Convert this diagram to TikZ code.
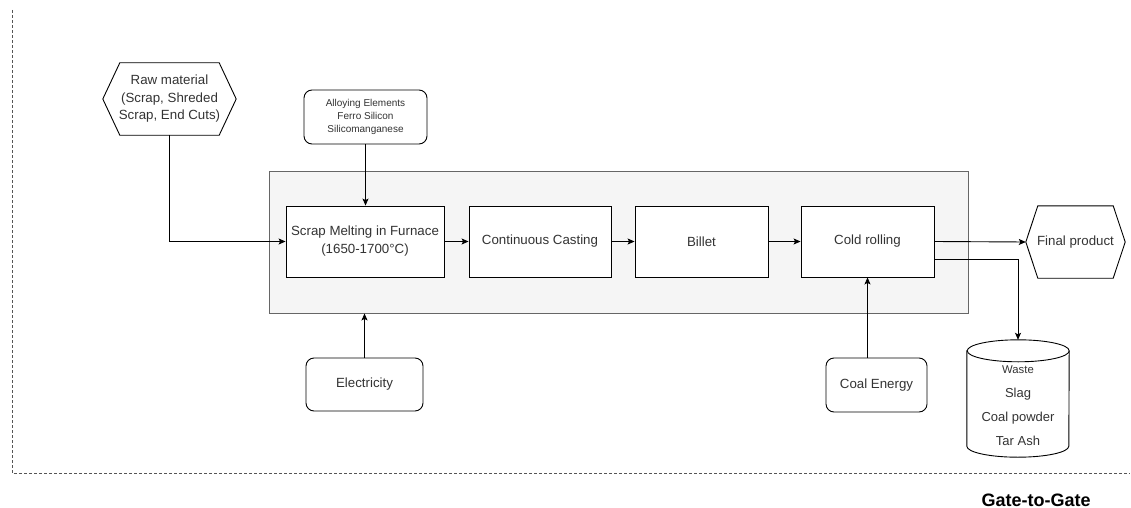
\documentclass[tikz,border=0pt]{standalone}
\usepackage{fontspec}
\setmainfont{Liberation Sans}
\usetikzlibrary{arrows.meta,calc}
\definecolor{txt}{HTML}{333333}
\definecolor{sysfill}{HTML}{F5F5F5}
\definecolor{sysline}{HTML}{666666}
\definecolor{bord}{HTML}{555555}
\tikzset{
  stepbox/.style={draw=black, line width=0.9pt, fill=white, inner sep=0pt, align=center,
    text=txt, font=\fontsize{13.3}{18}\selectfont},
  roundbox/.style={stepbox, rounded corners=8pt},
  hexnode/.style={inner sep=0pt, align=center, text=txt, font=\fontsize{13.3}{17.5}\selectfont},
  shapeline/.style={draw=black, line width=0.9pt},
  flow/.style={draw=black, line width=0.9pt, -{Stealth[length=7pt,width=6pt,inset=1.5pt]}},
}
\begin{document}
\begin{tikzpicture}[x=1pt,y=-1pt]
\useasboundingbox (0,0) rectangle (1131,508);
% gate-to-gate boundary
\draw[bord, line width=0.8pt, dash pattern=on 3pt off 2pt] (12,10) -- (12,473) -- (1130,473);
\node[font=\bfseries\fontsize{18}{21}\selectfont, text=black, anchor=base, inner sep=0pt] (gtg) at (1036,506) {Gate-to-Gate};
% system box
\node[draw=sysline, fill=sysfill, line width=0.9pt, minimum width=699pt, minimum height=142pt, inner sep=0pt] (sys) at (618.5,242) {};
% process steps
\node[stepbox, minimum width=158pt, minimum height=71pt] (scrap) at (365,241.5) {Scrap Melting in Furnace\\(1650-1700°C)};
\node[stepbox, minimum width=142pt, minimum height=71pt] (cast) at (540,241.5) {Continuous Casting};
\node[stepbox, minimum width=133pt, minimum height=71pt] (billet) at (701.5,241.5) {Billet};
\node[stepbox, minimum width=133pt, minimum height=71pt] (cold) at (867.5,241.5) {Cold rolling};
% inputs
\node[roundbox, minimum width=123pt, minimum height=54pt, font=\fontsize{10}{13}\selectfont] (alloy) at (365.5,117) {Alloying Elements\\Ferro Silicon\\Silicomanganese};
\node[roundbox, minimum width=117pt, minimum height=53pt] (elec) at (364.5,384.5) {Electricity};
\node[roundbox, minimum width=101pt, minimum height=54pt] (coal) at (876.5,385) {Coal Energy};
% raw material hexagon
\node[hexnode, minimum width=133pt, minimum height=72pt] (raw) at (169.5,99) {Raw material\\(Scrap, Shreded\\Scrap, End Cuts)};
\draw[shapeline] (raw.west) -- ($(raw.north west)+(17,0)$) -- ($(raw.north east)+(-17,0)$) -- (raw.east) -- ($(raw.south east)+(-17,0)$) -- ($(raw.south west)+(17,0)$) -- cycle;
% final product hexagon
\node[hexnode, minimum width=99pt, minimum height=72pt] (final) at (1075.5,242) {Final product};
\draw[shapeline] (final.west) -- ($(final.north west)+(12,0)$) -- ($(final.north east)+(-12,0)$) -- (final.east) -- ($(final.south east)+(-12,0)$) -- ($(final.south west)+(12,0)$) -- cycle;
% waste cylinder
\node[minimum width=102pt, minimum height=117pt, inner sep=0pt] (waste) at (1018,398.5) {};
\draw[shapeline, fill=white] ($(waste.north west)+(0,11)$) -- ($(waste.south west)+(0,-11)$)
  arc[start angle=180, end angle=360, x radius=51pt, y radius=11pt]
  -- ($(waste.north east)+(0,11)$)
  arc[start angle=0, end angle=180, x radius=51pt, y radius=11pt] -- cycle;
\draw[shapeline] ($(waste.north east)+(0,11)$) arc[start angle=0, end angle=-180, x radius=51pt, y radius=11pt];
\node[text=txt, align=center, inner sep=0pt, font=\fontsize{13}{24}\selectfont] (wastetxt) at (1018,406) {{\fontsize{11.3}{24}\selectfont Waste}\\Slag\\Coal powder\\Tar Ash};
% connectors
\draw[flow] (raw.south) |- (scrap.west);
\draw[flow] (alloy.south) -- (alloy.south |- scrap.north);
\draw[flow] (elec.north) -- (elec.north |- sys.south);
\draw[flow] (scrap.east) -- (cast.west);
\draw[flow] (cast.east) -- (billet.west);
\draw[flow] (billet.east) -- (cold.west);
\draw[flow] (cold.east) -- (final.west);
\draw[flow] ($(cold.east)+(0,18)$) -| (waste.north);
\draw[flow] (cold.south |- coal.north) -- (cold.south);
\end{tikzpicture}
\end{document}
